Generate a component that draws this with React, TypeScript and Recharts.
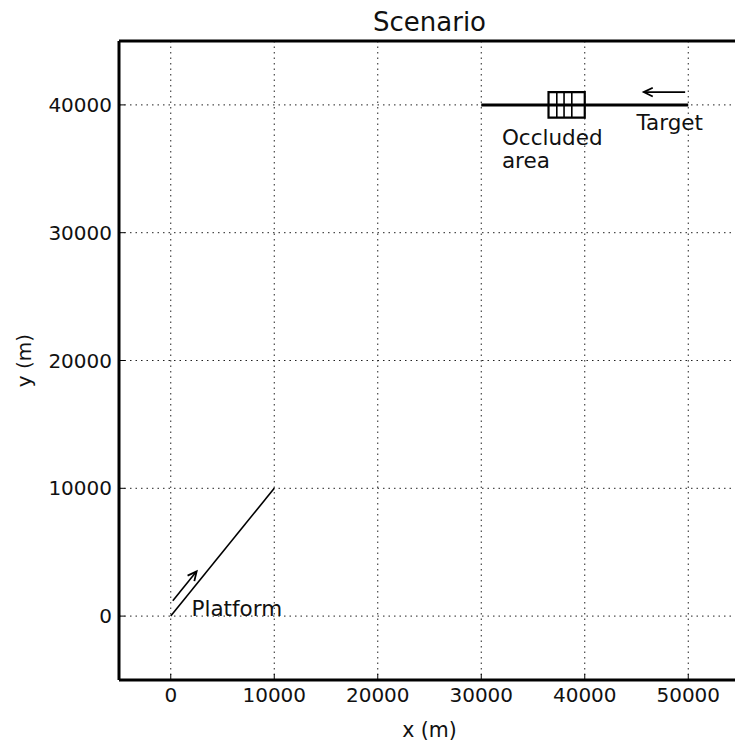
import React from 'react';
import {
  ComposedChart, Scatter, XAxis, YAxis, CartesianGrid, ReferenceLine, ReferenceArea, ReferenceDot, Label
} from 'recharts';

// axes limits / ticks
const xDomain = [-5000, 55000];
const yDomain = [-5000, 45000];
const xTicks = [0, 10000, 20000, 30000, 40000, 50000];
const yTicks = [0, 10000, 20000, 30000, 40000];

// tracks
const platformTrack = [{ x: 0, y: 0 }, { x: 10000, y: 10000 }];
const targetTrack = [{ x: 30000, y: 40000 }, { x: 50000, y: 40000 }];

// direction arrows (tail -> head)
const platformArrow = [{ x: 200, y: 1200 }, { x: 2500, y: 3500 }];
const targetArrow = [{ x: 49700, y: 41000 }, { x: 45700, y: 41000 }];

// occluded box + its hatch
const occludedX = [36500, 40000];
const occludedY = [39000, 41000];
const occludedHatch = [37300, 38000, 38750];

// text notes
const notes = [
  { x: 2000, y: 0, lines: ['Platform'] },
  { x: 45000, y: 38000, lines: ['Target'] },
  { x: 32000, y: 36900, lines: ['Occluded', 'area'] },
];

const FONT = '"DejaVu Sans", sans-serif';

const arrowShape = (p: any) => {
  const { x1, y1, x2, y2 } = p;
  const ang = Math.atan2(y2 - y1, x2 - x1);
  const len = 10;
  const spread = 0.45;
  const ax = x2 - len * Math.cos(ang - spread);
  const ay = y2 - len * Math.sin(ang - spread);
  const bx = x2 - len * Math.cos(ang + spread);
  const by = y2 - len * Math.sin(ang + spread);
  return (
    <g>
      <line x1={x1} y1={y1} x2={x2} y2={y2} stroke="#000" strokeWidth={1.6} />
      <polyline points={`${ax},${ay} ${x2},${y2} ${bx},${by}`} fill="none" stroke="#000" strokeWidth={1.8} />
    </g>
  );
};

const noteShape = (lines: string[]) => (p: any) => (
  <text x={p.cx} y={p.cy} fontFamily={FONT} fontSize={21.5} fill="#111">
    {lines.map((l, i) => (
      <tspan key={i} x={p.cx} dy={i === 0 ? 0 : 23}>{l}</tspan>
    ))}
  </text>
);

export default function App() {
  const tickStyle = { fontSize: 20, fill: '#111', fontFamily: FONT };
  return (
    <div style={{ position: 'absolute', left: 0, top: 0, width: 735, height: 745, overflow: 'hidden', background: '#fff' }}>
      <div style={{
        position: 'absolute', left: 119, width: 621, top: 7, textAlign: 'center',
        fontFamily: FONT, fontSize: 26, color: '#111'
      }}>
        Scenario
      </div>
      <ComposedChart width={760} height={745} margin={{ top: 40, right: 20, left: 0, bottom: 0 }}>
        <CartesianGrid stroke="#222" strokeDasharray="1.5 4" strokeWidth={1} syncWithTicks />
        <XAxis
          dataKey="x" type="number" domain={xDomain} ticks={xTicks} allowDataOverflow
          height={65} tickSize={-6} tickMargin={14}
          axisLine={{ stroke: '#000', strokeWidth: 3 }} tickLine={{ stroke: '#000' }}
          tick={tickStyle}
        >
          <Label value="x (m)" position="insideBottom" offset={8} style={{ fontSize: 20.5, fill: '#111', fontFamily: FONT }} />
        </XAxis>
        <XAxis
          xAxisId="top" orientation="top" type="number" domain={xDomain} ticks={xTicks} allowDataOverflow
          height={1} tickSize={-6} tickFormatter={() => ''}
          axisLine={{ stroke: '#000', strokeWidth: 3 }} tickLine={{ stroke: '#000' }}
        />
        <YAxis
          dataKey="y" type="number" domain={yDomain} ticks={yTicks} allowDataOverflow
          width={119} tickSize={-6} tickMargin={13}
          axisLine={{ stroke: '#000', strokeWidth: 3 }} tickLine={{ stroke: '#000' }}
          tick={tickStyle}
        >
          <Label content={(p: any) => {
            const vb = p.viewBox;
            const cx = vb.x + 24;
            const cy = vb.y + vb.height / 2;
            return (
              <text x={cx} y={cy} transform={`rotate(-90 ${cx} ${cy})`} textAnchor="middle"
                dominantBaseline="central" fontFamily={FONT} fontSize={20} fill="#111">y (m)</text>
            );
          }} />
        </YAxis>

        <Scatter data={platformTrack} line={{ stroke: '#000', strokeWidth: 1.6 }} shape={() => <g />} isAnimationActive={false} />
        <Scatter data={targetTrack} line={{ stroke: '#000', strokeWidth: 3 }} shape={() => <g />} isAnimationActive={false} />

        <ReferenceArea x1={occludedX[0]} x2={occludedX[1]} y1={occludedY[0]} y2={occludedY[1]}
          fill="#fff" fillOpacity={1} stroke="#000" strokeWidth={2.2} />
        {occludedHatch.map((hx) => (
          <ReferenceLine key={hx} segment={[{ x: hx, y: occludedY[0] }, { x: hx, y: occludedY[1] }]}
            stroke="#000" strokeWidth={1.6} />
        ))}

        <ReferenceLine segment={platformArrow} shape={arrowShape} />
        <ReferenceLine segment={targetArrow} shape={arrowShape} />

        {notes.map((n) => (
          <ReferenceDot key={n.lines[0]} x={n.x} y={n.y} r={1} shape={noteShape(n.lines)} />
        ))}
      </ComposedChart>
    </div>
  );
}
